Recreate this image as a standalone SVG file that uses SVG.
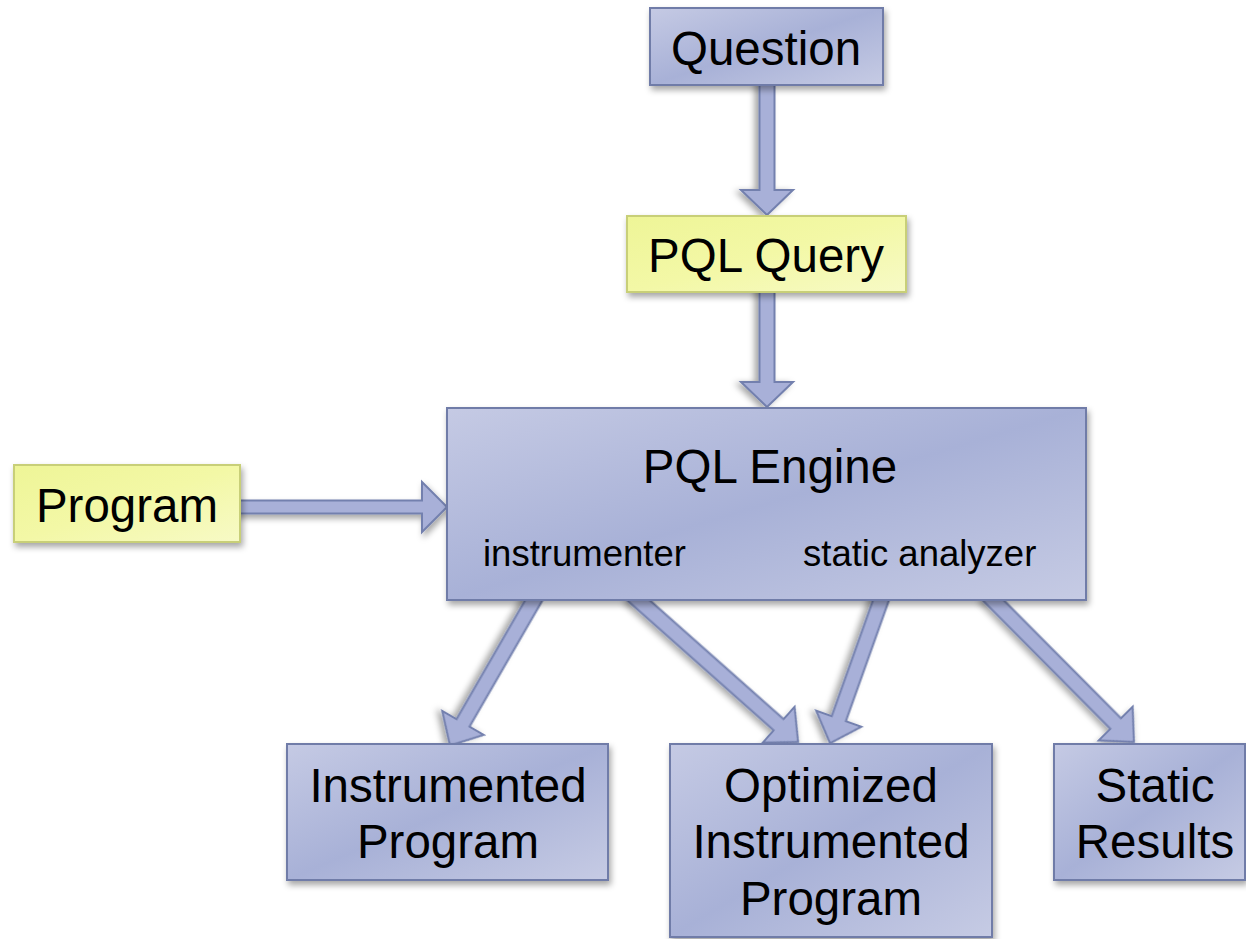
<svg xmlns="http://www.w3.org/2000/svg" width="1246" height="939" viewBox="0 0 1246 939">
<defs>
<linearGradient id="blue" x1="0" y1="0" x2="1" y2="1">
<stop offset="0" stop-color="#c5cae4"/>
<stop offset="0.5" stop-color="#a8b1d7"/>
<stop offset="1" stop-color="#c6cbe4"/>
</linearGradient>
<linearGradient id="yellow" x1="0" y1="0" x2="1" y2="1">
<stop offset="0" stop-color="#eef597"/>
<stop offset="0.5" stop-color="#f3f8a6"/>
<stop offset="1" stop-color="#f7fac6"/>
</linearGradient>
<filter id="shadow" x="-10%" y="-10%" width="130%" height="140%">
<feDropShadow dx="2" dy="4" stdDeviation="3" flood-color="#000" flood-opacity="0.35"/>
</filter>
</defs>
<style>
.box{fill:url(#blue);stroke:#6f7ba8;stroke-width:2;filter:url(#shadow)}
.ybox{fill:url(#yellow);stroke:#c8cf78;stroke-width:2;filter:url(#shadow)}
.arr{fill:#a8b0d8;stroke:#7380ae;stroke-width:2;stroke-linejoin:miter;filter:url(#shadow)}
.t{font-family:"Liberation Sans",Arial,sans-serif;font-size:47.5px;fill:#000;text-anchor:middle}
.s{font-family:"Liberation Sans",Arial,sans-serif;font-size:36.5px;fill:#000}
</style>
<rect width="1246" height="939" fill="#fff"/>
<g id="connectors">
<polygon class="arr" transform="translate(767,80) rotate(90)" points="0,-7.5 110,-7.5 110,-26 135,0 110,26 110,7.5 0,7.5"/>
<polygon class="arr" transform="translate(767,286) rotate(90)" points="0,-7.5 96,-7.5 96,-26 121,0 96,26 96,7.5 0,7.5"/>
<polygon class="arr" transform="translate(234,507)" points="0,-6.5 188,-6.5 188,-25 213,0 188,25 188,6.5 0,6.5"/>
<polygon class="arr" transform="translate(539,591.3) rotate(120)" points="0,-7.5 152,-7.5 152,-24 178,0 152,24 152,7.5 0,7.5"/>
<polygon class="arr" transform="translate(630.6,593.3) rotate(41.6)" points="0,-7.5 198,-7.5 198,-24 224,0 198,24 198,7.5 0,7.5"/>
<polygon class="arr" transform="translate(884.4,590.6) rotate(109.6)" points="0,-7.5 136,-7.5 136,-24 162,0 136,24 136,7.5 0,7.5"/>
<polygon class="arr" transform="translate(986,593) rotate(45.2)" points="0,-7.5 184,-7.5 184,-24 210,0 184,24 184,7.5 0,7.5"/>
</g>
<g id="question">
<rect class="box" x="650" y="8" width="233" height="77"/>
<text class="t" x="766" y="65">Question</text>
</g>
<g id="pql-query">
<rect class="ybox" x="627" y="216" width="279" height="76"/>
<text class="t" x="766" y="272">PQL Query</text>
</g>
<g id="program">
<rect class="ybox" x="14" y="465" width="226" height="77"/>
<text class="t" x="127" y="522">Program</text>
</g>
<g id="pql-engine">
<rect class="box" x="447" y="408" width="639" height="192"/>
<text class="t" x="770" y="483">PQL Engine</text>
<text class="s" x="483" y="566">instrumenter</text>
<text class="s" x="803" y="566">static analyzer</text>
</g>
<g id="instrumented-program">
<rect class="box" x="287" y="744" width="321" height="136"/>
<text class="t" x="448" y="802">Instrumented</text>
<text class="t" x="448" y="858">Program</text>
</g>
<g id="optimized-instrumented-program">
<rect class="box" x="670" y="744" width="322" height="193"/>
<text class="t" x="831" y="802">Optimized</text>
<text class="t" x="831" y="858">Instrumented</text>
<text class="t" x="831" y="915">Program</text>
</g>
<g id="static-results">
<rect class="box" x="1054" y="744" width="191" height="136"/>
<text class="t" x="1155" y="802">Static</text>
<text class="t" x="1155" y="858">Results</text>
</g>
</svg>
